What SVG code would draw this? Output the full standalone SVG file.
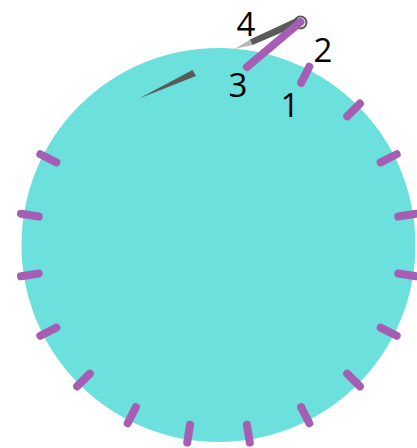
<svg xmlns="http://www.w3.org/2000/svg" width="417" height="448" viewBox="0 0 417 448">
<style>
.tick{stroke:#a65eb5;stroke-width:8;stroke-linecap:round;fill:none}
.lbl{font-family:"Open Sans","DejaVu Sans",sans-serif;font-size:33px;font-weight:500;fill:#000;text-anchor:middle}
.dark{fill:#5a5a5a}
.light{fill:#b9b9b9}
</style>
<rect width="417" height="448" fill="#ffffff"/>
<g id="dial">
<circle cx="218.5" cy="245" r="197" fill="#6be0dc"/>
</g>
<g id="ticks">
<line class="tick" x1="398.26" y1="273.47" x2="416.04" y2="276.29"/>
<line class="tick" x1="380.66" y1="327.63" x2="396.70" y2="335.80"/>
<line class="tick" x1="347.19" y1="373.69" x2="359.92" y2="386.42"/>
<line class="tick" x1="301.13" y1="407.16" x2="309.30" y2="423.20"/>
<line class="tick" x1="246.97" y1="424.76" x2="249.79" y2="442.54"/>
<line class="tick" x1="190.03" y1="424.76" x2="187.21" y2="442.54"/>
<line class="tick" x1="135.87" y1="407.16" x2="127.70" y2="423.20"/>
<line class="tick" x1="89.81" y1="373.69" x2="77.08" y2="386.42"/>
<line class="tick" x1="56.34" y1="327.63" x2="40.30" y2="335.80"/>
<line class="tick" x1="38.74" y1="273.47" x2="20.96" y2="276.29"/>
<line class="tick" x1="38.74" y1="216.53" x2="20.96" y2="213.71"/>
<line class="tick" x1="56.34" y1="162.37" x2="40.30" y2="154.20"/>
<line class="tick" x1="301.13" y1="82.84" x2="309.30" y2="66.80"/>
<line class="tick" x1="347.19" y1="116.31" x2="359.92" y2="103.58"/>
<line class="tick" x1="380.66" y1="162.37" x2="396.70" y2="154.20"/>
<line class="tick" x1="398.26" y1="216.53" x2="416.04" y2="213.71"/>
</g>
<g id="needle-left">
<polygon class="dark" points="139,98.5 192.5,70 196,76"/>
</g>
<g id="needle-top">
<polygon class="light" points="234.5,49 250,39.5 252.5,45"/>
<polygon class="dark" points="250,39.5 297.4,17.6 300.6,24.4 252.5,45"/>
<circle cx="300.5" cy="22.5" r="6" fill="none" stroke="#5a5a5a" stroke-width="2"/>
</g>
<g id="moved-tick">
<line class="tick" x1="247" y1="67" x2="300.5" y2="22"/>
</g>
<g id="labels">
<text class="lbl" x="246" y="36">4</text>
<text class="lbl" x="323" y="62">2</text>
<text class="lbl" x="238" y="97">3</text>
<text class="lbl" x="290" y="117">1</text>
</g>
</svg>
